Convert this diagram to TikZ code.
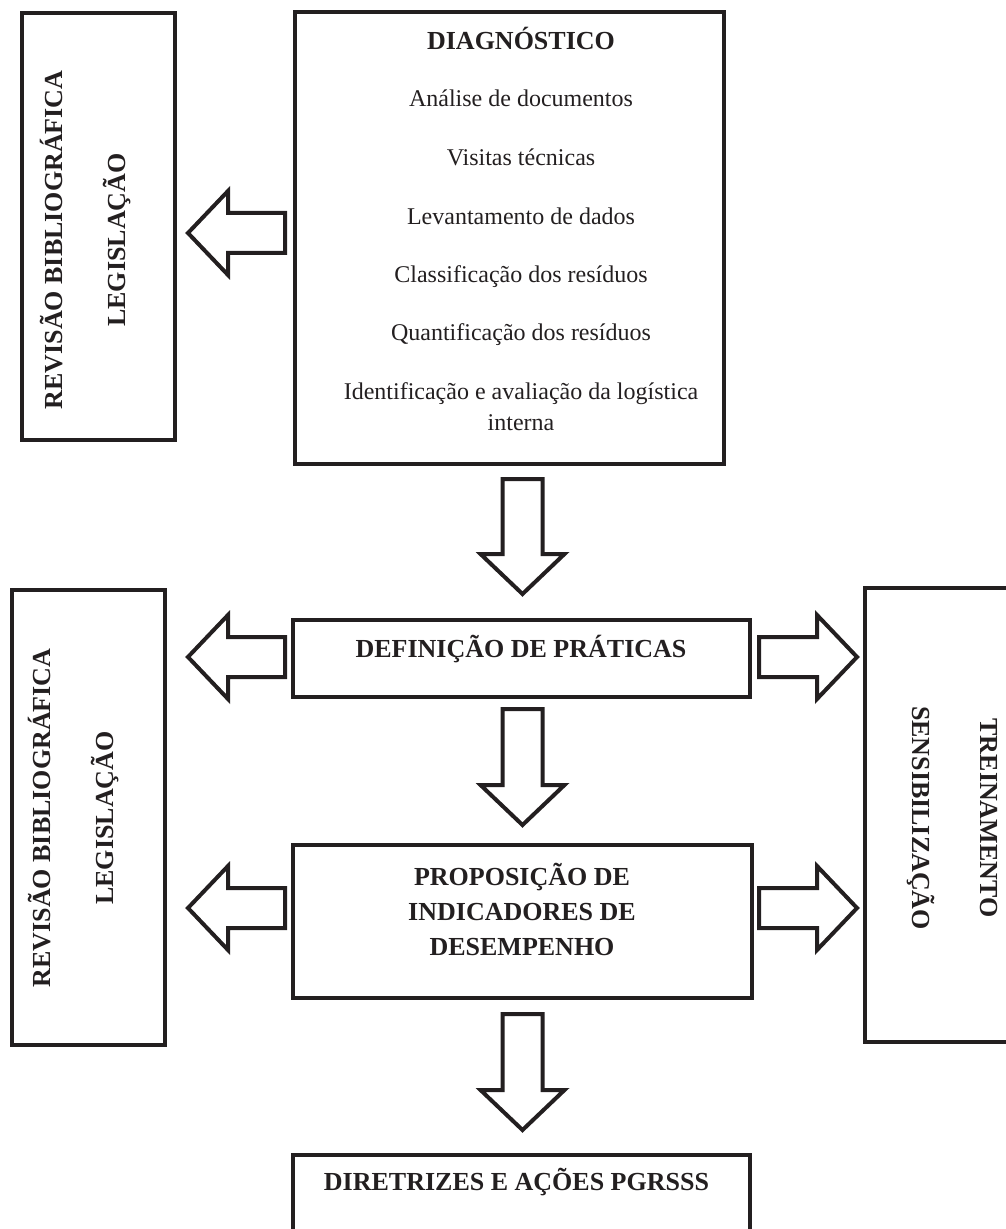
\documentclass[tikz,border=0pt]{standalone}
\usepackage{fontspec}
\setmainfont{Liberation Serif}
\usetikzlibrary{calc}
\definecolor{ink}{HTML}{231F20}
\tikzset{
  box/.style={draw=ink, line width=2pt, rectangle, inner sep=0pt},
  title/.style={font=\fontsize{13}{15}\selectfont\bfseries, text=ink, inner sep=0pt, anchor=base},
  item/.style={font=\fontsize{12}{14}\selectfont, text=ink, inner sep=0pt, anchor=base},
  pics/blockarrow/.style={code={%
    \draw[draw=ink, line width=2pt, line join=miter, fill=white]
      (0,-20) -- ({#1-40},-20) -- ({#1-40},-42) -- (#1,0)
      -- ({#1-40},42) -- ({#1-40},20) -- (0,20) -- cycle;
  }}
}
\begin{document}
\begin{tikzpicture}[x=0.5pt, y=-0.5pt]
    \useasboundingbox (0,0) rectangle (1005,1229);
    % boxes
    \node [box, minimum width=76.5pt, minimum height=213.5pt] (rev1) at (98.5,226.5) {};
    \node [box, minimum width=214.5pt, minimum height=226pt] (diag) at (509.5,238) {};
    \node [box, minimum width=76.5pt, minimum height=227.5pt] (rev2) at (88.5,817.5) {};
    \node [box, minimum width=228.5pt, minimum height=38.5pt] (defi) at (521.5,658.5) {};
    \node [box, minimum width=229.5pt, minimum height=76.5pt] (prop) at (522.5,921.5) {};
    \node [box, minimum width=80pt, minimum height=227pt] (trein) at (945,815) {};
    \node [box, minimum width=228.5pt, minimum height=60pt] (final) at (521.5,1215) {};
    % block arrows
    \pic [rotate=180] (adiagl) at ($(diag.west)+(-8,-5)$) {blockarrow=97};
    \pic [rotate=-90] (adiagd) at ($(diag.south)+(13,13)$) {blockarrow=115};
    \pic [rotate=180] (adefil) at ($(defi.west)+(-6,-1.5)$) {blockarrow=97};
    \pic (adefir) at ($(defi.east)+(7,-1.5)$) {blockarrow=98};
    \pic [rotate=-90] (adefid) at ($(defi.south)+(1,10)$) {blockarrow=116};
    \pic [rotate=180] (apropl) at ($(prop.west)+(-6,-13.5)$) {blockarrow=97};
    \pic (apropr) at ($(prop.east)+(5,-13.5)$) {blockarrow=98};
    \pic [rotate=-90] (apropd) at ($(prop.south)+(0,14)$) {blockarrow=116};
    % add labels
    \node [title, rotate=90] (rev1a) at (62,240) {REVISÃO BIBLIOGRÁFICA};
    \node [title, rotate=90] (rev1b) at (125,240) {LEGISLAÇÃO};
    \node [title] (diagt) at (521,50) {DIAGNÓSTICO};
    \node [item] (diag1) at (521,107) {Análise de documentos};
    \node [item] (diag2) at (521,166) {Visitas técnicas};
    \node [item] (diag3) at (521,225) {Levantamento de dados};
    \node [item] (diag4) at (521,283) {Classificação dos resíduos};
    \node [item] (diag5) at (521,341) {Quantificação dos resíduos};
    \node [item] (diag6) at (521,400) {Identificação e avaliação da logística};
    \node [item] (diag7) at (521,430) {interna};
    \node [title] (defit) at (521,657) {DEFINIÇÃO DE PRÁTICAS};
    \node [title] (prop1) at (522,885) {PROPOSIÇÃO DE};
    \node [title] (prop2) at (522,920) {INDICADORES DE};
    \node [title] (prop3) at (522,955) {DESEMPENHO};
    \node [title, rotate=90] (rev2a) at (50,818) {REVISÃO BIBLIOGRÁFICA};
    \node [title, rotate=90] (rev2b) at (113,818) {LEGISLAÇÃO};
    \node [title, rotate=-90] (treina) at (980,818) {TREINAMENTO};
    \node [title, rotate=-90] (treinb) at (912,818) {SENSIBILIZAÇÃO};
    \node [title] (finalt) at (516.5,1190) {DIRETRIZES E AÇÕES PGRSSS};
\end{tikzpicture}
\end{document}
